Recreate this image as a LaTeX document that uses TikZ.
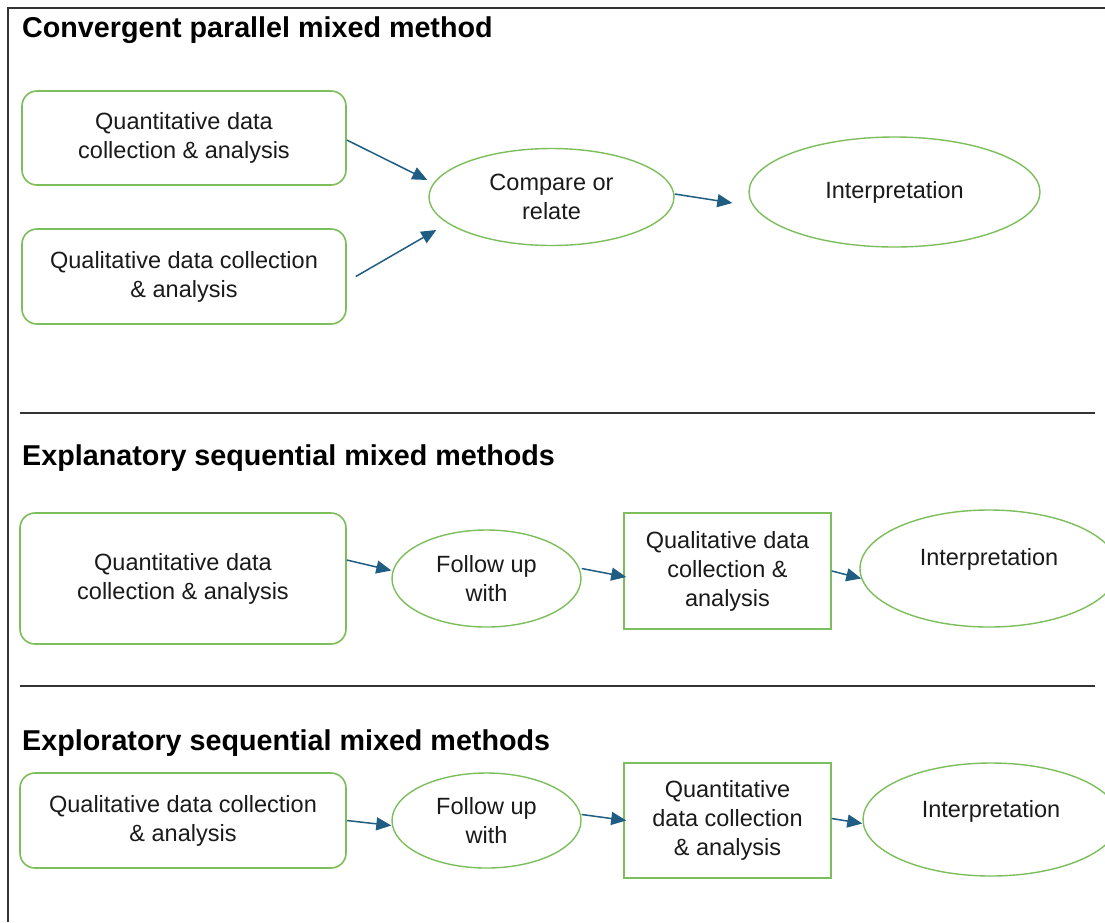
\documentclass[tikz,border=0pt]{standalone}
\usepackage{fontspec}
\setmainfont{Liberation Sans}
\usetikzlibrary{shapes.geometric,arrows.meta}
\definecolor{boxgreen}{HTML}{7DBE5C}
\definecolor{arrblue}{HTML}{1F5E82}
\definecolor{txt}{HTML}{1A1A1A}
\definecolor{framegray}{HTML}{333333}
\tikzset{
  body/.style={font=\fontsize{23.5}{29}\selectfont, text=txt, align=center},
  roundbox/.style={body, draw=boxgreen, line width=1.6pt, rounded corners=15pt, inner sep=0pt},
  sqbox/.style={body, draw=boxgreen, line width=1.6pt, inner sep=0pt},
  oval/.style={body, ellipse, draw=boxgreen, line width=1.4pt, inner sep=0pt},
  heading/.style={font=\fontsize{28.7}{34}\selectfont\bfseries, text=black, anchor=base west, inner sep=0pt},
  conn/.style={draw=arrblue, line width=1.5pt, -{Triangle[length=15pt,width=13pt]}},
  rule/.style={draw=framegray, line width=1.4pt},
}
\begin{document}
\begin{tikzpicture}[x=1pt,y=-1pt]
\useasboundingbox (0,0) rectangle (1105,922);
\fill[white] (0,0) rectangle (1105,922);
% frame
\coordinate (ftl) at (8,8);
\coordinate (fbl) at (8,922);
\coordinate (ftr) at (1105,8);
\draw[framegray, line width=2.2pt] (fbl) -- (ftl) -- (ftr);

% ---------- section 1
\node[heading] (t1) at (22,37) {Convergent parallel mixed method};
\node[roundbox, minimum width=324pt, minimum height=94pt] (A) at (184,138) {Quantitative data\\collection \& analysis};
\node[roundbox, minimum width=324pt, minimum height=95pt] (B) at (184,276.5) {Qualitative data collection\\\& analysis};
\node[oval, minimum width=245pt, minimum height=97pt] (cmp) at (551.5,197) {Compare or\\relate};
\node[oval, minimum width=291pt, minimum height=110pt] (i1) at (894.5,192) {Interpretation};
\draw[conn] ([yshift=-2pt]A.east) -- ([xshift=-1pt,yshift=17pt]cmp.west);
\draw[conn] ([xshift=9pt]B.east) -- ([xshift=8pt,yshift=-33pt]cmp.west);
\draw[conn] ([yshift=3pt]cmp.east) -- ([xshift=-16pt,yshift=-11pt]i1.west);

\coordinate (r1a) at (20,413);
\coordinate (r1b) at (1095,413);
\draw[rule] (r1a) -- (r1b);

% ---------- section 2
\node[heading] (t2) at (22,465) {Explanatory sequential mixed methods};
\node[roundbox, minimum width=326pt, minimum height=131pt] (C) at (183,578.5) {Quantitative data\\collection \& analysis};
\node[oval, minimum width=189pt, minimum height=97pt] (f2) at (486.5,578.5) {Follow up\\with};
\node[sqbox, minimum width=207pt, minimum height=116pt] (R2) at (727.5,571) {Qualitative data\\collection \&\\analysis};
\node[oval, minimum width=258pt, minimum height=117pt] (i2) at (989,568.5) {\raisebox{23pt}{Interpretation}};
\draw[conn] ([yshift=18.5pt]C.east) -- ([yshift=8pt]f2.west);
\draw[conn] ([yshift=10pt]f2.east) -- ([xshift=3pt,yshift=-6pt]R2.west);
\draw[conn] (R2.east) -- ([xshift=2pt,yshift=-10pt]i2.west);

\coordinate (r2a) at (20,686);
\coordinate (r2b) at (1095,686);
\draw[rule] (r2a) -- (r2b);

% ---------- section 3
\node[heading] (t3) at (22,750) {Exploratory sequential mixed methods};
\node[roundbox, minimum width=326pt, minimum height=95pt] (D) at (183,820.5) {Qualitative data collection\\\& analysis};
\node[oval, minimum width=189pt, minimum height=95pt] (f3) at (486.5,820.5) {Follow up\\with};
\node[sqbox, minimum width=207pt, minimum height=115pt] (R3) at (727.5,820.5) {Quantitative\\data collection\\\& analysis};
\node[oval, minimum width=256pt, minimum height=113pt] (i3) at (991,819.5) {\raisebox{21pt}{Interpretation}};
\draw[conn] (D.east) -- ([yshift=-5pt]f3.west);
\draw[conn] ([yshift=6pt]f3.east) -- ([xshift=3pt]R3.west);
\draw[conn] ([yshift=2pt]R3.east) -- ([xshift=0pt,yshift=-4pt]i3.west);
\end{tikzpicture}
\end{document}
